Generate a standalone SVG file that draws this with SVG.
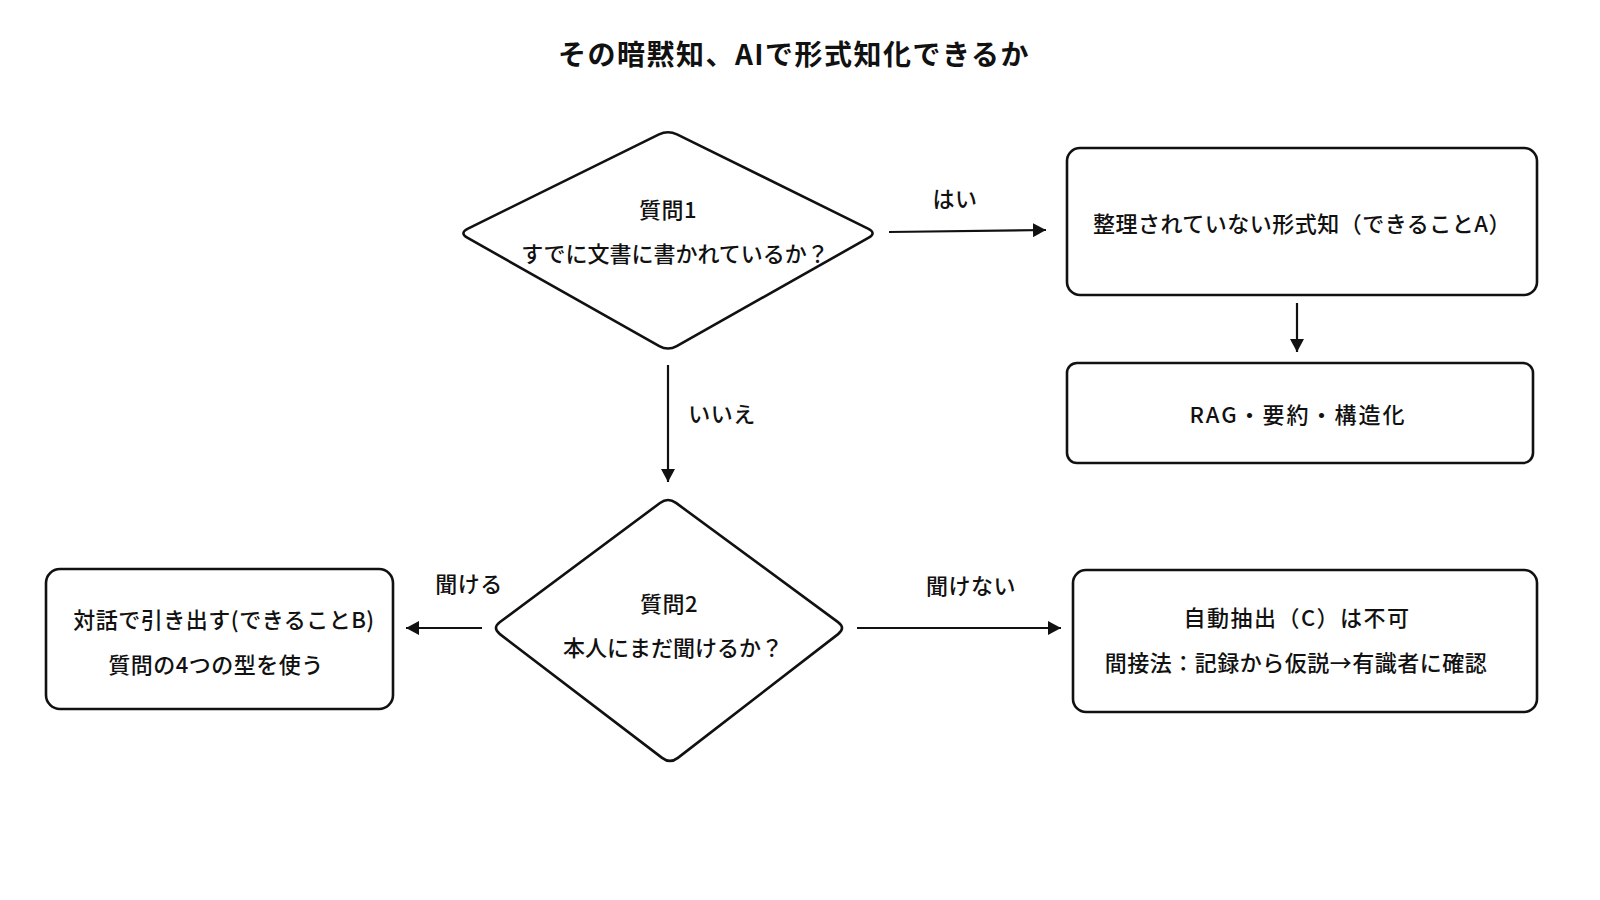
<svg xmlns="http://www.w3.org/2000/svg" width="1600" height="900" viewBox="0 0 1600 900">
<style>
text{font-family:"Noto Sans CJK JP","Noto Sans",sans-serif;fill:#111;text-anchor:middle;dominant-baseline:central}
.t{font-size:22px;font-weight:500;letter-spacing:0.5px}
.title{font-size:28px;font-weight:700;letter-spacing:1.5px}
.shape{fill:#fff;stroke:#111;stroke-width:2.6}
.conn{stroke:#111;stroke-width:2.2;fill:none;marker-end:url(#ah)}
</style>
<defs>
<marker id="ah" markerUnits="userSpaceOnUse" markerWidth="14" markerHeight="14" refX="13" refY="7" orient="auto">
<path d="M0,0 L13,7 L0,14 z" fill="#111"/>
</marker>
</defs>
<rect width="1600" height="900" fill="#fff"/>
<text class="title" x="794" y="53">その暗黙知、AIで形式知化できるか</text>
<g id="connectors">
<line class="conn" x1="889" y1="232" x2="1046" y2="230"/>
<line class="conn" x1="1297" y1="303" x2="1297" y2="352"/>
<line class="conn" x1="668" y1="365" x2="668" y2="482"/>
<line class="conn" x1="482" y1="628" x2="406" y2="628"/>
<line class="conn" x1="857" y1="628" x2="1061" y2="628"/>
<text class="t" x="955" y="197">はい</text>
<text class="t" x="722" y="412">いいえ</text>
<text class="t" x="469" y="582">聞ける</text>
<text class="t" x="971" y="584">聞けない</text>
</g>
<g id="q1">
<path class="shape" d="M677,134.4 L868,228.6 Q877,233 868.3,237.9 L676.7,346.1 Q668,351 659.3,346.1 L467.7,237.9 Q459,233 468,228.6 L659,134.4 Q668,130 677,134.4 Z"/>
<text class="t" x="668" y="208">質問1</text>
<text class="t" x="675" y="252" style="letter-spacing:0">すでに文書に書かれているか？</text>
</g>
<g id="nodeA">
<rect class="shape" x="1067" y="148" width="470" height="147" rx="13"/>
<text class="t" x="1302" y="222">整理されていない形式知（できることA）</text>
</g>
<g id="rag">
<rect class="shape" x="1067" y="363" width="466" height="100" rx="10"/>
<text class="t" x="1298" y="413" style="letter-spacing:2px">RAG・要約・構造化</text>
</g>
<g id="q2">
<path class="shape" d="M676,502.9 L838,622.1 Q846,628 838.1,634.1 L677.9,757.9 Q670,764 662.1,757.9 L499.9,634.1 Q492,628 500,622 L660,503 Q668,497 676,502.9 Z"/>
<text class="t" x="669" y="602">質問2</text>
<text class="t" x="673" y="646" style="letter-spacing:0">本人にまだ聞けるか？</text>
</g>
<g id="nodeB">
<rect class="shape" x="46" y="569" width="347" height="140" rx="14"/>
<text class="t" x="224" y="618">対話で引き出す(できることB)</text>
<text class="t" x="216" y="663">質問の4つの型を使う</text>
</g>
<g id="nodeC">
<rect class="shape" x="1073" y="570" width="464" height="142" rx="13"/>
<text class="t" x="1297" y="616" style="letter-spacing:1.5px">自動抽出（C）は不可</text>
<text class="t" x="1296" y="661">間接法：記録から仮説→有識者に確認</text>
</g>
</svg>
